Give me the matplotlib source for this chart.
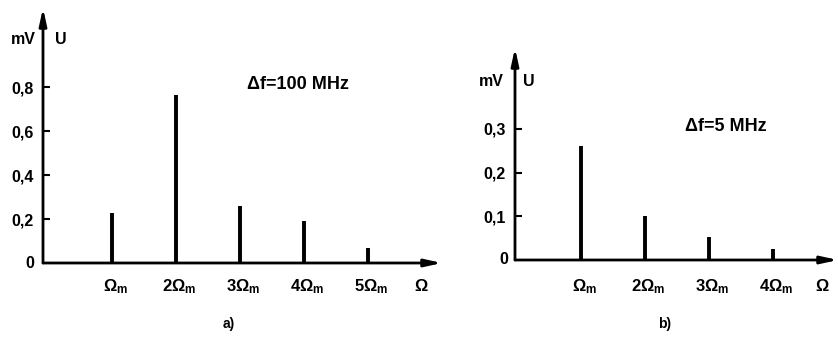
import matplotlib.pyplot as plt

plt.rcParams['font.family'] = ['Liberation Sans', 'DejaVu Sans']
plt.rcParams['font.weight'] = 'bold'
plt.rcParams['mathtext.fontset'] = 'custom'
plt.rcParams['mathtext.rm'] = 'Liberation Sans:bold'
plt.rcParams['mathtext.it'] = 'Liberation Sans:bold'
plt.rcParams['mathtext.bf'] = 'Liberation Sans:bold'

# spectrum a), delta f = 100 MHz
harm_a = [1, 2, 3, 4, 5]
amp_a = [0.227, 0.764, 0.26, 0.19, 0.068]
yticks_a = [0.2, 0.4, 0.6, 0.8]
ylabels_a = ['0,2', '0,4', '0,6', '0,8']
xlabels_a = ['Ω$_\\mathregular{m}$', '2Ω$_\\mathregular{m}$', '3Ω$_\\mathregular{m}$',
             '4Ω$_\\mathregular{m}$', '5Ω$_\\mathregular{m}$']

# spectrum b), delta f = 5 MHz
harm_b = [1, 2, 3, 4]
amp_b = [0.261, 0.10, 0.053, 0.025]
yticks_b = [0.1, 0.2, 0.3]
ylabels_b = ['0,1', '0,2', '0,3']
xlabels_b = xlabels_a[:4]

W, H = 838, 338
fig = plt.figure(figsize=(W / 100, H / 100), dpi=100)


def make_axes(px_left, px_right, px_base, px_top, x0_px, unit_x, unit_y):
    """axes placed by pixel edges, x=0 at x0_px, unit sizes in px"""
    ax = fig.add_axes([px_left / W, (H - px_base) / H,
                       (px_right - px_left) / W, (px_base - px_top) / H])
    ax.set_xlim((px_left - x0_px) / unit_x, (px_right - x0_px) / unit_x)
    ax.set_ylim(0, (px_base - px_top) / unit_y)
    for s in ax.spines.values():
        s.set_visible(False)
    ax.patch.set_visible(False)
    # axis arrows
    style = '-|>,head_length=1.0,head_width=0.22'
    ax.annotate('', xy=(1, 0), xytext=(0, 0), xycoords='axes fraction',
                arrowprops=dict(arrowstyle=style, color='black', lw=2, shrinkA=0, shrinkB=0))
    ax.annotate('', xy=(0, 1), xytext=(0, 0), xycoords='axes fraction',
                arrowprops=dict(arrowstyle=style, color='black', lw=2, shrinkA=0, shrinkB=0))
    return ax


def draw_panel(ax, harm, amp, yt, yl, xl, note, note_xy, tag, tag_xy,
               omega_x, label_y, unit_pos):
    ax.vlines(harm, 0, amp, color='black', lw=2.8)
    ax.set_yticks(yt)
    ax.set_yticklabels(yl, fontsize=11.5, fontweight='bold')
    ax.tick_params(axis='y', direction='in', length=5, width=1.5, pad=7)
    ax.set_xticks([])
    for h, lab in zip(harm, xl):
        ax.text(h + 0.05, label_y, lab, fontsize=12, ha='center', va='center',
                transform=ax.get_xaxis_transform())
    ax.text(omega_x, label_y, 'Ω', fontsize=12, ha='center', va='center',
            transform=ax.get_xaxis_transform())
    ax.text(-0.022, 0, '0', fontsize=11.5, ha='right', va='center',
            transform=ax.get_yaxis_transform())
    mv_x, u_x, unit_y = unit_pos
    ax.text(mv_x, unit_y, 'mV', fontsize=11.5, ha='right', va='center',
            transform=ax.transAxes)
    ax.text(u_x, unit_y, 'U', fontsize=11.5, ha='left', va='center',
            transform=ax.transAxes)
    ax.text(note_xy[0], note_xy[1], note, fontsize=13,
            ha='left', va='center', transform=ax.transData)
    ax.text(tag_xy[0], tag_xy[1], tag, fontsize=10, ha='center', va='center',
            transform=ax.get_xaxis_transform())


ax_a = make_axes(43, 442, 263, 8, 48, 64, 220)
draw_panel(ax_a, harm_a, amp_a, yticks_a, ylabels_a, xlabels_a,
           'Δf=100 MHz', (3.11, 0.81), 'a)', (2.83, -0.24), 5.83, -0.094,
           (-0.018, 0.03, 0.875))

ax_b = make_axes(515, 838, 260, 48, 517, 64, 437)
draw_panel(ax_b, harm_b, amp_b, yticks_b, ylabels_b, xlabels_b,
           'Δf=5 MHz', (2.63, 0.305), 'b)', (2.31, -0.30), 4.77, -0.127,
           (-0.035, 0.025, 0.84))

fig.savefig('out.png', dpi=100)
